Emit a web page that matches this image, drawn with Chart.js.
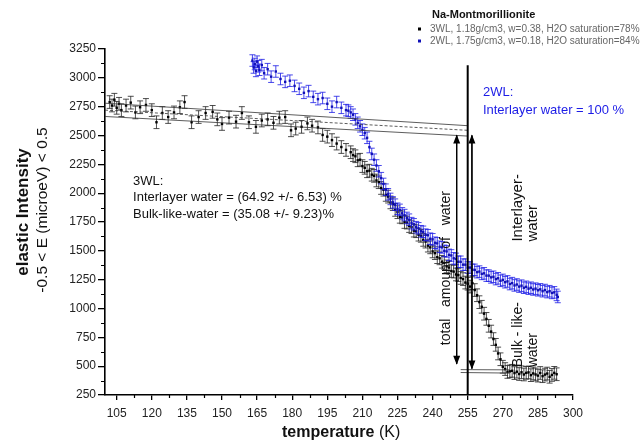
<!DOCTYPE html>
<html>
<head>
<meta charset="utf-8">
<script src="https://cdn.jsdelivr.net/npm/chart.js@4.4.1/dist/chart.umd.min.js"></script>
<style>
  html, body { margin: 0; padding: 0; background: #fff; }
  #wrap { position: relative; width: 643px; height: 445px; }
</style>
</head>
<body>
<div id="wrap"><canvas id="c" width="643" height="445"></canvas></div>
<script>
// Axis ticks
const tempTicks = [105, 120, 135, 150, 165, 180, 195, 210, 225, 240, 255, 270, 285, 300];
const intensityTicks = [250, 500, 750, 1000, 1250, 1500, 1750, 2000, 2250, 2500, 2750, 3000, 3250];

// 3WL sample: temperature (K) and elastic intensity
const t3WL = [102, 103, 104, 105, 106, 107, 109, 111, 113, 115, 117.5, 120, 122, 124.5, 127, 129.5, 132, 134, 137, 140,
  143, 146, 148, 150, 153, 156, 158.5, 161.5, 164.5, 167, 169.5, 172, 174.5, 177, 179.5, 181.5, 184, 186.5, 188.5, 191,
  193, 195, 197, 199, 201, 203,
  205, 206, 207, 208, 209, 210, 211, 212, 213, 214, 215, 216, 217, 218, 219, 220, 221, 222, 223, 224,
  225, 226, 227, 228, 229, 230, 231, 232, 233, 234, 235, 236, 237, 238, 239, 240, 241, 242, 243, 244,
  245, 246, 247, 248, 249, 250, 251, 252, 253, 254, 255, 256, 257, 258, 259, 260, 261, 262, 263, 264,
  265, 266, 267, 268, 269, 270, 271, 272, 273, 274, 275, 276, 277, 278, 279, 280, 281, 282, 283, 284,
  285, 286, 287, 288, 289, 290, 291, 292, 293];
const i3WL = [2790, 2760, 2810, 2740, 2775, 2720, 2760, 2785, 2700, 2745, 2765, 2720, 2615, 2695, 2660, 2700, 2745, 2790, 2615, 2660,
  2695, 2705, 2640, 2600, 2655, 2620, 2695, 2615, 2575, 2630, 2640, 2610, 2655, 2660, 2545, 2560, 2575, 2605, 2585, 2570,
  2505, 2490, 2460, 2430, 2400, 2375,
  2355, 2330, 2320, 2285, 2290, 2235, 2220, 2190, 2195, 2160, 2150, 2110, 2095, 2045, 2030, 1985, 1970, 1920, 1905, 1855,
  1835, 1795, 1790, 1750, 1745, 1715, 1705, 1675, 1670, 1640, 1630, 1595, 1580, 1545, 1530, 1495, 1480, 1445, 1435, 1405,
  1395, 1365, 1355, 1325, 1320, 1295, 1290, 1265, 1255, 1225, 1215, 1190, 1220, 1160, 1115, 1055, 1015, 955, 910, 850,
  800, 735, 685, 610, 560, 495, 475, 450, 455, 460, 440, 452, 432, 447, 428, 442, 446, 422, 437, 428,
  418, 441, 413, 427, 436, 408, 424, 442, 430];

// 2WL sample: temperature (K) and elastic intensity
const t2WL = [163, 163.5, 164, 164.5, 165, 165.5, 166, 167, 168, 169.5, 171, 173, 175, 177, 179, 181, 183, 185, 187, 189,
  191, 193, 195, 197, 199, 201, 203,
  204, 205, 206, 207, 208, 209, 210, 211, 212, 213, 214, 215, 216, 217, 218, 219, 220, 221, 222, 223,
  224, 225, 226, 227, 228, 229, 230, 231, 232, 233, 234, 235, 236, 237, 238, 239, 240, 241, 242, 243,
  244, 245, 246, 247, 248, 249, 250, 251, 252, 253, 254, 255, 256, 257, 258, 259, 260, 261, 262, 263,
  264, 265, 266, 267, 268, 269, 270, 271, 272, 273, 274, 275, 276, 277, 278, 279, 280, 281, 282, 283,
  284, 285, 286, 287, 288, 289, 290, 291, 292, 293, 293.5];
const i2WL = [3150, 3090, 3120, 3060, 3140, 3100, 3070, 3110, 3040, 3075, 3010, 3055, 2990, 2965, 2975, 2930, 2905, 2870, 2885, 2835,
  2815, 2825, 2775, 2750, 2790, 2740, 2720,
  2715, 2700, 2680, 2640, 2610, 2580, 2550, 2520, 2480, 2400, 2340, 2290, 2240, 2190, 2130, 2080, 2030, 1990, 1950, 1920,
  1900, 1865, 1855, 1825, 1810, 1785, 1770, 1740, 1730, 1705, 1695, 1670, 1665, 1640, 1635, 1605, 1600, 1570, 1565, 1535,
  1530, 1500, 1495, 1465, 1460, 1435, 1430, 1405, 1405, 1380, 1380, 1355, 1355, 1335, 1335, 1315, 1320, 1300, 1305, 1285,
  1285, 1270, 1275, 1255, 1262, 1240, 1248, 1228, 1235, 1212, 1220, 1200, 1208, 1190, 1198, 1180, 1188, 1172, 1180, 1165,
  1172, 1158, 1166, 1150, 1160, 1142, 1150, 1135, 1140, 1118, 1100];

// Error bar half-widths
const err3WL = 55;
const err2WL = 50;

// Linear fits of the low-temperature plateau (T from, T to / intensity from, intensity to)
const fitT = [100, 255];
const fitUpper = [2780, 2585];
const fitMiddle = [2720, 2545];
const fitLower = [2665, 2495];
// Bulk-water plateau fits
const bulkT = [252, 273];
const bulkUpper = [470, 468];
const bulkLower = [445, 440];

// Melting marker and water-amount arrows
const meltT = 255;
const meltTop = 3110;
const arrowTotalT = 250.3;
const arrowTotal = [2500, 520];
const arrowInterT = 256.8;
const arrowInter = [2500, 480];

const BLUE = '#1c1ce6';
const FONT = 'Arial, "Liberation Sans", sans-serif';

const pts = (xs, ys) => xs.map((x, i) => ({ x, y: ys[i] }));

const errorBars = {
  id: 'errorBars',
  beforeDatasetDraw(chart, args) {
    const ds = chart.data.datasets[args.index];
    if (!ds.errorBar) return;
    const { ctx, scales: { x, y } } = chart;
    ctx.save();
    ctx.strokeStyle = ds.errorColor;
    ctx.lineWidth = 0.8;
    ctx.beginPath();
    ds.data.forEach(p => {
      const px = x.getPixelForValue(p.x);
      const top = y.getPixelForValue(p.y + ds.errorBar);
      const bot = y.getPixelForValue(p.y - ds.errorBar);
      ctx.moveTo(px, top); ctx.lineTo(px, bot);
      ctx.moveTo(px - 3, top); ctx.lineTo(px + 3, top);
      ctx.moveTo(px - 3, bot); ctx.lineTo(px + 3, bot);
    });
    ctx.stroke();
    ctx.restore();
  }
};

const arrowHeads = {
  id: 'arrowHeads',
  afterDatasetsDraw(chart) {
    const { ctx, scales: { x, y } } = chart;
    ctx.save();
    ctx.fillStyle = '#000';
    chart.data.datasets.forEach(ds => {
      if (!ds.arrow) return;
      const px = x.getPixelForValue(ds.data[0].x);
      const yTop = y.getPixelForValue(ds.data[0].y);
      const yBot = y.getPixelForValue(ds.data[1].y);
      ctx.beginPath();
      ctx.moveTo(px, yTop - 1); ctx.lineTo(px - 3.5, yTop + 8); ctx.lineTo(px + 3.5, yTop + 8); ctx.closePath();
      ctx.moveTo(px, yBot + 1); ctx.lineTo(px - 3.5, yBot - 8); ctx.lineTo(px + 3.5, yBot - 8); ctx.closePath();
      ctx.fill();
    });
    ctx.restore();
  }
};

const minorTicks = {
  id: 'minorTicks',
  afterDraw(chart) {
    const { ctx, scales: { x, y } } = chart;
    ctx.save();
    ctx.strokeStyle = '#000';
    ctx.lineWidth = 1.2;
    ctx.beginPath();
    for (let t = 112.5; t < 300; t += 15) {
      const px = Math.round(x.getPixelForValue(t)) + 0.5;
      ctx.moveTo(px, y.bottom); ctx.lineTo(px, y.bottom + 3);
    }
    for (let v = 375; v < 3250; v += 250) {
      const py = Math.round(y.getPixelForValue(v)) + 0.5;
      ctx.moveTo(x.left, py); ctx.lineTo(x.left - 4, py);
    }
    ctx.stroke();
    ctx.restore();
  }
};

const labels = {
  id: 'labels',
  afterDraw(chart) {
    const { ctx, scales: { x, y } } = chart;
    const X = v => x.getPixelForValue(v);
    const Y = v => y.getPixelForValue(v);
    ctx.save();
    ctx.textBaseline = 'middle';

    // axis titles
    ctx.fillStyle = '#111';
    ctx.font = 'bold 16px ' + FONT;
    const tw = ctx.measureText('temperature').width;
    const sx = 282;
    ctx.textAlign = 'left';
    ctx.fillText('temperature', sx, 433);
    ctx.font = '16px ' + FONT;
    ctx.fillText(' (K)', sx + tw, 433);

    ctx.save();
    ctx.translate(23, 212);
    ctx.rotate(-Math.PI / 2);
    ctx.textAlign = 'center';
    ctx.font = 'bold 17px ' + FONT;
    ctx.fillText('elastic Intensity', 0, 0);
    ctx.font = '15.5px ' + FONT;
    ctx.fillText('-0.5 < E (microeV) < 0.5', 2, 20);
    ctx.restore();

    // 3WL result
    ctx.textAlign = 'left';
    ctx.fillStyle = '#111';
    ctx.font = '13px ' + FONT;
    ctx.fillText('3WL:', X(112), Y(2105));
    ctx.fillText('Interlayer water = (64.92 +/- 6.53) %', X(112), Y(1965));
    ctx.fillText('Bulk-like-water = (35.08 +/- 9.23)%', X(112), Y(1815));

    // 2WL result
    ctx.fillStyle = BLUE;
    ctx.fillText('2WL:', X(261.5), Y(2870));
    ctx.fillText('Interlayer water = 100 %', X(261.5), Y(2720));

    // rotated captions
    ctx.fillStyle = '#111';
    const rot = (txt, tx, ty, align, size) => {
      ctx.save();
      ctx.font = size + 'px ' + FONT;
      ctx.translate(X(tx), Y(ty));
      ctx.rotate(-Math.PI / 2);
      ctx.textAlign = align;
      ctx.fillText(txt, 0, 0);
      ctx.restore();
    };
    rot('total   amount   of   water', 245.6, 1350, 'center', 14);
    rot('Interlayer-', 276.5, 1580, 'left', 15);
    rot('water', 282.9, 1580, 'left', 15);
    rot('Bulk - like-', 276.5, 490, 'left', 14);
    rot('water', 282.9, 490, 'left', 14);

    // legend
    ctx.textAlign = 'left';
    ctx.font = 'bold 11px ' + FONT;
    ctx.fillStyle = '#111';
    ctx.fillText('Na-Montmorillionite', 432, 15);
    ctx.font = '10px ' + FONT;
    [0, 1].forEach((i, k) => {
      const ds = chart.data.datasets[i];
      const ly = 29 + k * 12;
      ctx.fillStyle = ds.backgroundColor;
      ctx.fillRect(418, ly - 1.5, 3, 3);
      ctx.fillStyle = '#666';
      ctx.fillText(ds.label, 430, ly);
    });
    ctx.restore();
  }
};

new Chart(document.getElementById('c'), {
  type: 'scatter',
  data: {
    datasets: [
      {
        label: '3WL, 1.18g/cm3, w=0.38, H2O saturation=78%',
        data: pts(t3WL, i3WL),
        backgroundColor: '#000', borderColor: '#000',
        pointStyle: 'rect', pointRadius: 1.7, borderWidth: 0,
        errorBar: err3WL, errorColor: '#222', order: 5
      },
      {
        label: '2WL, 1.75g/cm3, w=0.18, H2O saturation=84%',
        data: pts(t2WL, i2WL),
        backgroundColor: '#1010b8', borderColor: '#1010b8',
        pointStyle: 'rect', pointRadius: 1.7, borderWidth: 0,
        errorBar: err2WL, errorColor: BLUE, order: 4
      },
      { data: pts(fitT, fitUpper), showLine: true, pointRadius: 0, borderColor: '#333', borderWidth: 0.8, order: 3 },
      { data: pts(fitT, fitMiddle), showLine: true, pointRadius: 0, borderColor: '#333', borderWidth: 0.8, borderDash: [3, 2], order: 3 },
      { data: pts(fitT, fitLower), showLine: true, pointRadius: 0, borderColor: '#333', borderWidth: 0.8, order: 3 },
      { data: pts(bulkT, bulkUpper), showLine: true, pointRadius: 0, borderColor: '#333', borderWidth: 0.8, order: 3 },
      { data: pts(bulkT, bulkLower), showLine: true, pointRadius: 0, borderColor: '#333', borderWidth: 0.8, order: 3 },
      { data: pts([meltT, meltT], [250, meltTop]), showLine: true, pointRadius: 0, borderColor: '#000', borderWidth: 2, order: 2, clip: false },
      { data: pts([arrowTotalT, arrowTotalT], arrowTotal), showLine: true, pointRadius: 0, borderColor: '#000', borderWidth: 1, arrow: true, order: 1 },
      { data: pts([arrowInterT, arrowInterT], arrowInter), showLine: true, pointRadius: 0, borderColor: '#000', borderWidth: 1, arrow: true, order: 1 }
    ]
  },
  options: {
    responsive: false,
    animation: false,
    devicePixelRatio: 1,
    layout: { padding: { top: 49, right: 70, bottom: 0, left: 0 } },
    plugins: { legend: { display: false }, tooltip: { enabled: false } },
    scales: {
      x: {
        type: 'linear', min: 100, max: 300,
        afterBuildTicks: s => { s.ticks = tempTicks.map(v => ({ value: v })); },
        afterFit: s => { s.height = 50; },
        ticks: { font: { family: FONT, size: 12 }, color: '#222', padding: 6, maxRotation: 0, autoSkip: false, callback: v => String(v) },
        grid: { drawOnChartArea: false, tickLength: 5, color: '#000', lineWidth: 1.3 },
        border: { color: '#000', width: 1.6 }
      },
      y: {
        type: 'linear', min: 250, max: 3250,
        afterBuildTicks: s => { s.ticks = intensityTicks.map(v => ({ value: v })); },
        afterFit: s => { s.width = 105; },
        ticks: { font: { family: FONT, size: 12 }, color: '#222', padding: 2, autoSkip: false, callback: v => String(v) },
        grid: { drawOnChartArea: false, tickLength: 7, color: '#000', lineWidth: 1.3 },
        border: { color: '#000', width: 1.6 }
      }
    }
  },
  plugins: [errorBars, arrowHeads, minorTicks, labels]
});
</script>
</body>
</html>
